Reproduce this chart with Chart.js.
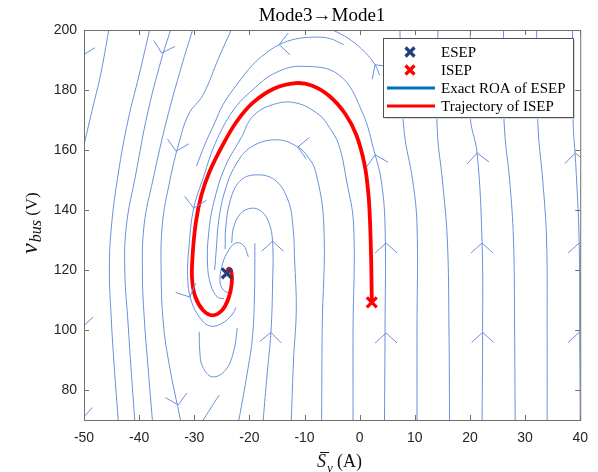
<!DOCTYPE html>
<html>
<head>
<meta charset="utf-8">
<script src="https://cdn.jsdelivr.net/npm/chart.js@4.4.1/dist/chart.umd.min.js"></script>
<style>
  html, body { margin: 0; padding: 0; background: #fff; }
</style>
</head>
<body>
<canvas id="c" width="598" height="472"></canvas>
<script>
// axis ticks
const xTicks = [-50, -40, -30, -20, -10, 0, 10, 20, 30, 40];
const yTicks = [80, 100, 120, 140, 160, 180, 200];

// equilibrium points
const esep = [-24.1, 118.9];
const isep = [2.2, 109.2];

// trajectory of ISEP (red)
const trajectory = [
  [2.2, 109.2], [2.1, 122], [1.9, 135], [1.6, 145], [0.9, 155], [-0.6, 165], [-2.6, 172],
  [-5.5, 178], [-8.7, 181.5], [-11.6, 182.3], [-15.5, 180.5], [-19.4, 175.7],
  [-22.3, 169.5], [-24.8, 161.8], [-27.2, 152.9], [-28.7, 145], [-29.7, 136], [-30.3, 125],
  [-30.4, 117], [-29.8, 111], [-28.4, 106.6], [-26.7, 104.9], [-25, 106.5], [-23.8, 110.5],
  [-23.2, 115.5], [-23.3, 119.6], [-23.8, 120.4], [-24.1, 118.9]
];

// streamlines on the left, flowing down
const leftStreams = [
  [[-45.5, 200], [-47, 185], [-48.3, 175], [-49.2, 168], [-50, 161.7]],
  [[-38.1, 200], [-40, 185], [-42, 170], [-43.8, 152], [-45, 135], [-45.4, 120], [-45, 102], [-44.6, 90], [-43.8, 70]],
  [[-34.3, 200], [-36, 190], [-38.5, 172], [-40.6, 152], [-42.3, 135], [-42.6, 120], [-42, 102], [-41.5, 88], [-40.8, 70]],
  [[-30.3, 200], [-32.3, 188], [-35, 170], [-37.5, 150], [-39.1, 135], [-39.4, 118], [-39, 102], [-38.4, 88], [-37.6, 70]],
  [[-23.3, 200], [-25.5, 191], [-28.4, 178.4], [-31, 172], [-32.8, 162.2], [-34.4, 150], [-35.8, 135], [-36, 118], [-35.6, 102], [-34.5, 88], [-32.5, 70]]
];

// arcs going up on the right and over the top
const arcStreams = [
  [[-2.9, 195.1], [-5.5, 197.2], [-8.6, 197.6], [-11.6, 197], [-14.6, 195.1], [-17.2, 192], [-19.4, 188.4], [-22.2, 182], [-24.8, 175.1], [-26.3, 169], [-28, 162.2], [-29.6, 154.6]],
  [[3.6, 185], [2.8, 188.4], [1, 192.5], [-1.5, 196.5], [-4.1, 199.3], [-5.5, 200.3]],
  [[4.5, 70], [4.6, 100], [4.6, 135], [3.9, 150], [2.8, 158.4], [0.4, 172.9], [-3.8, 185.1], [-10.4, 187.9], [-15.2, 185.8], [-19.4, 180.1], [-22.9, 173.3], [-26.2, 162.2], [-28.3, 151.1], [-30.1, 140.6], [-30.9, 128.9], [-31.2, 117.8], [-30.6, 110], [-28.9, 103.9], [-27.1, 101.3], [-25, 102.2], [-23.2, 105], [-22.4, 107.5]],
  [[-1.2, 70], [-1.2, 100], [-1.1, 135], [-2.4, 150], [-3.8, 161.8], [-5.5, 167.5], [-7.4, 171.8], [-11.6, 175.7], [-15.8, 175.1], [-19.4, 171.2], [-21.4, 164.4], [-24.4, 154.4], [-26.5, 142.2], [-27.4, 132], [-27.6, 122], [-27, 115], [-25.8, 111], [-24.6, 110.4]],
  [[-6.9, 70], [-6.8, 100], [-6.5, 135], [-8, 152.9], [-9.5, 158], [-11.2, 161], [-14.9, 163.4], [-19.6, 161.1], [-22.5, 155], [-24.5, 146], [-25.6, 136], [-26, 127], [-26.3, 120]],
  [[-12.4, 70], [-12, 90], [-11.5, 106.7], [-11.8, 123.3], [-12.1, 134.4], [-13, 143.3], [-15.4, 150], [-19, 151.7], [-21.8, 149.5], [-23.5, 143], [-24.3, 134], [-24.4, 127]],
  [[-17.5, 70], [-16.8, 85], [-16.1, 99.2], [-15.8, 115], [-15.8, 129.6], [-16.5, 136], [-17.8, 139.5], [-19.6, 140.6], [-21.6, 138.8], [-22.9, 134], [-23.2, 129]]
];

// short pieces around the focus
const spiralStreams = [
  [[-20.2, 124.4], [-21.1, 128.3], [-22.6, 128.9], [-24.1, 125.5], [-25, 121.1], [-25.3, 115.6], [-24.4, 112.8], [-23.2, 112.8]],
  [[-21.9, 70], [-20.4, 85.6], [-19.5, 96.7], [-19.1, 110], [-19, 128.9]],
  [[-29.1, 99.4], [-29, 93], [-28.5, 87.8], [-26.7, 84.4], [-24.3, 86.7], [-22.8, 93.3], [-22.2, 100.6]],
  [[-28.4, 69.9], [-27, 74], [-25.5, 78.3]]
];

// near-vertical streamlines on the right, flowing up
const rightStreams = [
  [[10.4, 70], [10.4, 100], [10.4, 135], [9.6, 150], [8.1, 165.6], [7.5, 185], [7.3, 200]],
  [[16.3, 70], [16.2, 100], [15.9, 130], [15, 150], [14.1, 165.6], [14, 185], [14.2, 200]],
  [[22.2, 70], [22.3, 99.4], [22.2, 129.2], [21.3, 159], [20.1, 170], [19.8, 185], [20.1, 200]],
  [[28.2, 70], [28.1, 100], [27.9, 130], [27.2, 150], [26.3, 166], [26, 185], [26.1, 200]],
  [[34, 70], [34, 100], [33.9, 130], [33.2, 150], [32.4, 166], [32.1, 185], [32.1, 200]],
  [[40, 70], [39.9, 100], [39.8, 130], [39.2, 155], [38.7, 170], [38.6, 200]]
];

// arrowheads: x, y, direction dx, dy (data units)
const arrows = [
  [-35.9, 192.3, -0.15, -1], [-33.3, 159.6, -0.12, -1], [-32.9, 75, 0.12, -1],
  [-30.1, 140.6, -0.1, -1], [-30.8, 111, 0.25, -1],
  [-50.3, 191.5, -0.1, -1], [-50.3, 101, 0, -1], [-50.3, 70.5, 0.05, -1],
  [-15.8, 129.6, 0, 1], [-16.1, 99.2, 0.03, 1],
  [4.8, 129, 0, 1], [4.8, 99, 0, 1], [2.8, 158.4, -0.12, 1],
  [22.2, 129, 0, 1], [22.3, 99.2, 0, 1], [21.3, 159, -0.05, 1],
  [39.8, 129, 0, 1], [39.8, 99.2, 0, 1], [39.1, 159, -0.03, 1],
  [-14.6, 195.1, -1, -0.15], [-11.2, 161, -1, 0.25], [2.8, 188.4, -0.4, 1]
];

const streamColor = 'rgb(104,144,220)';
const toXY = pts => pts.map(p => ({ x: p[0], y: p[1] }));
const allStreams = [...leftStreams, ...arcStreams, ...spiralStreams, ...rightStreams];

const datasets = [
  { label: 'ESEP', data: toXY([esep]), pointStyle: 'crossRot', pointRadius: 7, borderColor: '#233f7a', borderWidth: 3.2, showLine: false, order: 0 },
  { label: 'ISEP', data: toXY([isep]), pointStyle: 'crossRot', pointRadius: 7, borderColor: '#ff0000', borderWidth: 3.2, showLine: false, order: 0 },
  { label: 'Exact ROA of ESEP', data: [], borderColor: '#0072bd', borderWidth: 3, showLine: true, pointRadius: 0, order: 1 },
  { label: 'Trajectory of ISEP', data: toXY(trajectory), borderColor: '#ff0000', borderWidth: 3.8, showLine: true, pointRadius: 0, tension: 0.35, order: 1 }
];
allStreams.forEach(s => datasets.push({
  data: toXY(s), borderColor: streamColor, borderWidth: 1, showLine: true, pointRadius: 0, tension: 0.4, order: 3
}));

const serif = '"Liberation Serif", "Times New Roman", serif';

const arrowPlugin = {
  id: 'arrows',
  afterDatasetsDraw(chart) {
    const { ctx, chartArea: a, scales: { x, y } } = chart;
    ctx.save();
    ctx.beginPath();
    ctx.rect(a.left, a.top, a.right - a.left, a.bottom - a.top);
    ctx.clip();
    ctx.strokeStyle = streamColor;
    ctx.lineWidth = 1;
    arrows.forEach(([ax, ay, dx, dy]) => {
      const px = x.getPixelForValue(ax), py = y.getPixelForValue(ay);
      let vx = x.getPixelForValue(ax + dx) - px, vy = y.getPixelForValue(ay + dy) - py;
      const n = Math.hypot(vx, vy); vx /= n; vy /= n;
      const nx = -vy, ny = vx;
      ctx.beginPath();
      ctx.moveTo(px - vx * 10 + nx * 11, py - vy * 10 + ny * 11);
      ctx.lineTo(px, py);
      ctx.lineTo(px - vx * 10 - nx * 11, py - vy * 10 - ny * 11);
      ctx.stroke();
    });
    ctx.restore();

    // axes box with inward ticks
    ctx.save();
    ctx.strokeStyle = '#707070';
    ctx.lineWidth = 1;
    ctx.beginPath();
    xTicks.forEach(v => {
      const px = Math.round(x.getPixelForValue(v)) + 0.5;
      ctx.moveTo(px, a.bottom); ctx.lineTo(px, a.bottom - 5);
      ctx.moveTo(px, a.top); ctx.lineTo(px, a.top + 5);
    });
    yTicks.forEach(v => {
      const py = Math.round(y.getPixelForValue(v)) + 0.5;
      ctx.moveTo(a.left, py); ctx.lineTo(a.left + 5, py);
      ctx.moveTo(a.right, py); ctx.lineTo(a.right - 5, py);
    });
    ctx.stroke();
    ctx.strokeRect(a.left + 0.5, a.top + 0.5, a.right - a.left, a.bottom - a.top);
    ctx.restore();
  },
  afterDraw(chart) {
    const { ctx } = chart;
    ctx.save();
    ctx.fillStyle = '#000';
    ctx.textBaseline = 'alphabetic';

    // title
    ctx.font = '19px ' + serif;
    ctx.textAlign = 'center';
    ctx.fillText('Mode3\u2192Mode1', 322, 21);

    // x axis title
    ctx.textAlign = 'left';
    ctx.fillStyle = '#111';
    ctx.font = 'italic 18px ' + serif;
    ctx.fillText('S', 317, 467);
    ctx.strokeStyle = '#111';
    ctx.lineWidth = 1;
    ctx.beginPath(); ctx.moveTo(320, 452.5); ctx.lineTo(329, 452.5); ctx.stroke();
    ctx.font = 'italic 13px ' + serif;
    ctx.fillText('y', 327, 472);
    ctx.font = '18px ' + serif;
    ctx.fillText('(A)', 337, 467);

    // y axis title
    ctx.save();
    ctx.translate(37, 254);
    ctx.rotate(-Math.PI / 2);
    ctx.font = 'italic 24px ' + serif;
    ctx.fillText('v', 0, 0);
    let w = ctx.measureText('v').width + 1;
    ctx.font = 'italic 16px ' + serif;
    ctx.fillText('bus', w, 4);
    w += ctx.measureText('bus').width;
    ctx.font = '17px ' + serif;
    ctx.fillText(' (V)', w, 0);
    ctx.restore();

    // legend
    const bx = 383, by = 38, bw = 190, bh = 79;
    ctx.fillStyle = '#d8d8d8';
    ctx.fillRect(bx + 2, by + 2, bw, bh);
    ctx.fillStyle = '#fff';
    ctx.fillRect(bx, by, bw, bh);
    ctx.strokeStyle = '#505050';
    ctx.strokeRect(bx + 0.5, by + 0.5, bw, bh);
    chart.data.datasets.slice(0, 4).forEach((ds, i) => {
      const cy = by + 14 + i * 18;
      ctx.strokeStyle = ds.borderColor;
      if (ds.showLine) {
        ctx.lineWidth = 3;
        ctx.beginPath(); ctx.moveTo(bx + 4, cy); ctx.lineTo(bx + 52, cy); ctx.stroke();
      } else {
        ctx.lineWidth = 3.2;
        const cx = bx + 27, r = 4.5;
        ctx.beginPath();
        ctx.moveTo(cx - r, cy - r); ctx.lineTo(cx + r, cy + r);
        ctx.moveTo(cx + r, cy - r); ctx.lineTo(cx - r, cy + r);
        ctx.stroke();
      }
      ctx.fillStyle = '#000';
      ctx.font = '15px ' + serif;
      ctx.fillText(ds.label, bx + 58, cy + 5);
    });
    ctx.restore();
  }
};

new Chart(document.getElementById('c'), {
  type: 'scatter',
  data: { datasets },
  options: {
    responsive: false,
    animation: false,
    devicePixelRatio: 1,
    layout: { padding: { top: 30, right: 14, left: 0, bottom: 0 } },
    plugins: { legend: { display: false }, tooltip: { enabled: false }, title: { display: false } },
    elements: { line: { fill: false } },
    scales: {
      x: {
        type: 'linear', min: -50, max: 40,
        afterBuildTicks: s => { s.ticks = xTicks.map(v => ({ value: v })); },
        afterFit: s => { s.height = 52; },
        grid: { display: false, drawTicks: false },
        border: { display: false },
        ticks: { color: '#262626', font: { family: 'Liberation Sans', size: 14 }, padding: 10, maxRotation: 0, autoSkip: false }
      },
      y: {
        type: 'linear', min: 70, max: 200,
        afterBuildTicks: s => { s.ticks = yTicks.map(v => ({ value: v })); },
        afterFit: s => { s.width = 84; },
        grid: { display: false, drawTicks: false },
        border: { display: false },
        ticks: { color: '#262626', font: { family: 'Liberation Sans', size: 14 }, padding: 7, autoSkip: false }
      }
    }
  },
  plugins: [arrowPlugin]
});
</script>
</body>
</html>
